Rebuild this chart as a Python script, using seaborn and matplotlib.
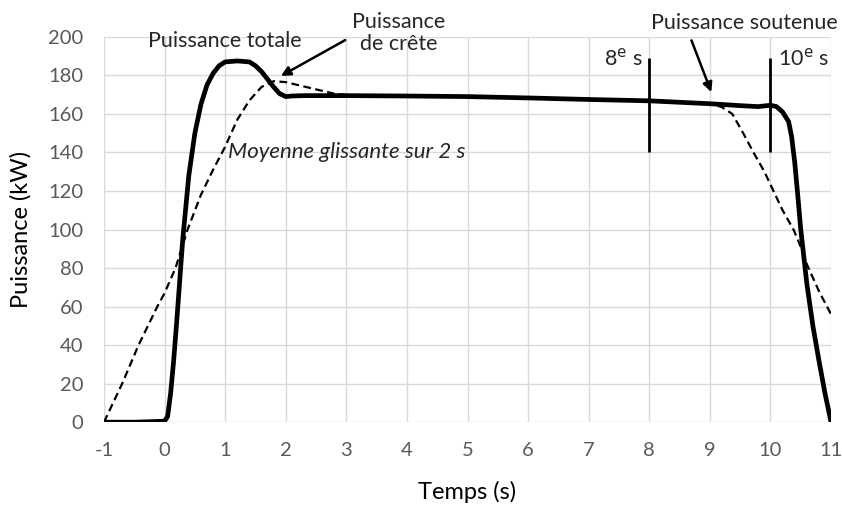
import matplotlib
matplotlib.use("Agg")
import matplotlib.pyplot as plt
import pandas as pd
import seaborn as sns

# puissance totale (kW) en fonction du temps (s)
t_total = [-1, -0.5, 0, 0.05, 0.1, 0.15, 0.2, 0.3, 0.4, 0.5, 0.6, 0.7, 0.8, 0.9, 1.0, 1.2, 1.4,
           1.5, 1.6, 1.7, 1.8, 1.9, 2.0, 2.1, 2.3, 3, 4, 5, 6, 7, 8, 9, 9.5, 9.8, 10.0, 10.1,
           10.2, 10.3, 10.35, 10.4, 10.45, 10.5, 10.6, 10.7, 10.8, 10.9, 11]
p_total = [0, 0, 0.5, 3, 15, 32, 52, 95, 128, 150, 165, 175, 181, 185, 187, 187.5, 187,
           185, 182, 178, 174, 170.5, 169, 169.3, 169.5, 169.5, 169.3, 169, 168.3, 167.5, 166.8, 165.3, 164.3, 163.8, 164.5, 163.8,
           161, 156, 148, 135, 118, 100, 72, 50, 32, 15, 0]

# moyenne glissante sur 2 s
t_moy = [-1, -0.7, -0.43, -0.12, 0, 0.18, 0.38, 0.6, 0.8, 1.0, 1.2, 1.4, 1.6, 1.8, 2.0, 2.4,
         2.8, 3, 5, 7, 8, 9, 9.2, 9.37, 9.55, 9.72, 9.9, 10.05, 10.2, 10.38, 10.5, 10.6, 10.8, 11]
p_moy = [0, 20, 40, 60, 67, 80, 100, 118, 131, 143, 157, 167, 174, 177, 176.5, 173.5,
         170.5, 169.8, 169.2, 167.8, 167, 165.5, 163.5, 160, 150, 140, 130, 120, 110, 100, 91, 82, 68, 56]

x_ticks = list(range(-1, 12))
y_ticks = list(range(0, 201, 20))
marks = [8, 10]

sns.set_style("whitegrid")
plt.rcParams['font.family'] = ['Lato', 'DejaVu Sans']
plt.rcParams['axes.unicode_minus'] = False

fig = plt.figure(figsize=(8.42, 5.05), dpi=100)
ax = fig.add_axes([0.1235, 0.164, 0.8635, 0.763])

df_total = pd.DataFrame({"t": t_total, "p": p_total})
df_moy = pd.DataFrame({"t": t_moy, "p": p_moy})
sns.lineplot(data=df_moy, x="t", y="p", ax=ax, color="black", lw=1.6,
             dashes=False, linestyle=(0, (3.5, 2)), sort=False)
sns.lineplot(data=df_total, x="t", y="p", ax=ax, color="black", lw=3.4, sort=False,
             solid_joinstyle="round", solid_capstyle="round")

for m in marks:
    ax.vlines(m, 140, 189, color="black", lw=2)

ax.set_xlim(-1, 11)
ax.set_ylim(0, 200)
ax.set_xticks(x_ticks)
ax.set_yticks(y_ticks)
ax.grid(True, color="#d9d9d9", lw=1)
for s in ax.spines.values():
    s.set_visible(False)
ax.tick_params(axis="y", colors="#595959", labelsize=14.5, length=0, pad=15)
ax.tick_params(axis="x", colors="#595959", labelsize=14.5, length=0, pad=14)
ax.set_xlabel("Temps (s)", fontsize=17, color="black", labelpad=16)
ax.set_ylabel("Puissance (kW)", fontsize=17, color="black", labelpad=12)

fs = 15.5
ax.text(1.0, 198, "Puissance totale", fontsize=fs, ha="center", va="center")
ax.text(3.86, 202, "Puissance\nde crête", fontsize=fs, ha="center", va="center",
        linespacing=1.15, clip_on=False)
ax.text(1.04, 140, "Moyenne glissante sur 2 s", fontsize=16, ha="left", va="center",
        style="italic")
ax.text(9.57, 207, "Puissance soutenue", fontsize=fs, ha="center", va="center",
        clip_on=False)
ax.text(7.89, 189, "8$^{\\mathrm{e}}$ s", fontsize=fs, ha="right", va="center")
ax.text(10.13, 189, "10$^{\\mathrm{e}}$ s", fontsize=fs, ha="left", va="center")

ax.annotate("", xy=(1.88, 179), xytext=(3.02, 199),
            arrowprops=dict(arrowstyle="-|>", color="black", lw=1.8, mutation_scale=14))
ax.annotate("", xy=(9.04, 170), xytext=(8.68, 199.5),
            arrowprops=dict(arrowstyle="-|>", color="black", lw=1.8, mutation_scale=14))

fig.savefig("out.png", dpi=100)
